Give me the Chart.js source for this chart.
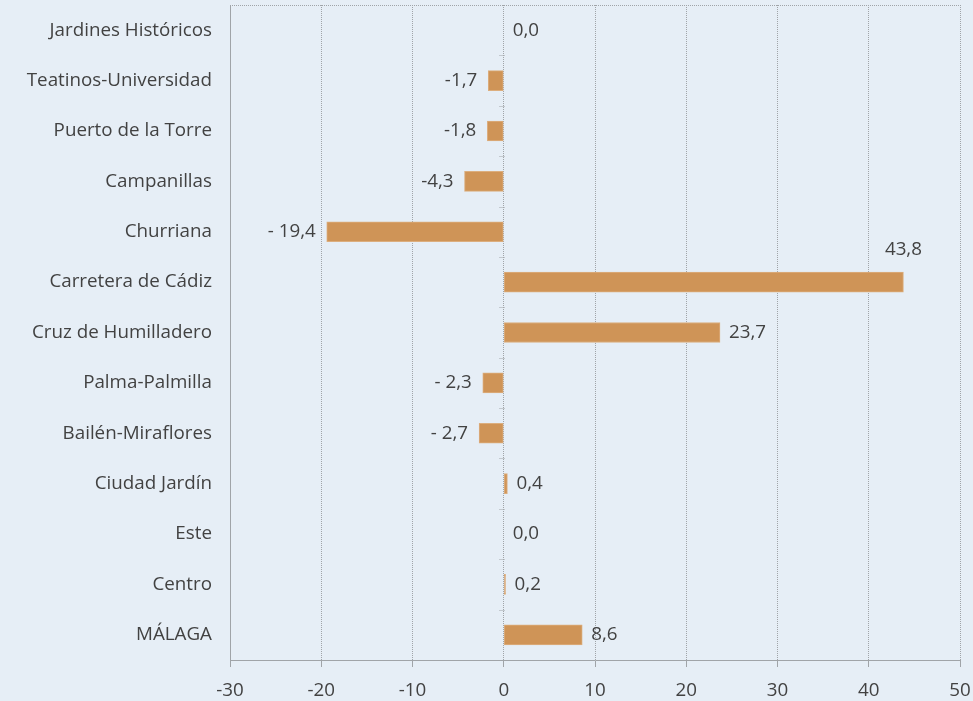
<!DOCTYPE html>
<html lang="es">
<head>
<meta charset="UTF-8">
<title>Variación por distrito</title>
<script src="https://cdn.jsdelivr.net/npm/chart.js@4.4.4/dist/chart.umd.min.js"></script>
</head>
<body style="margin:0; background:#e6eef6;">
<div style="width:973px; height:701px;">
    <canvas id="grafico"></canvas>
</div>
<script>
    // Distritos y variación (%)
    const distritos = [
        'Jardines Históricos', 'Teatinos-Universidad', 'Puerto de la Torre', 'Campanillas',
        'Churriana', 'Carretera de Cádiz', 'Cruz de Humilladero', 'Palma-Palmilla',
        'Bailén-Miraflores', 'Ciudad Jardín', 'Este', 'Centro', 'MÁLAGA'
    ];
    const variacion = [0.0, -1.7, -1.8, -4.3, -19.4, 43.8, 23.7, -2.3, -2.7, 0.4, 0.0, 0.2, 8.6];
    const etiquetas = ['0,0', '-1,7', '-1,8', '-4,3', '- 19,4', '43,8', '23,7', '- 2,3', '- 2,7', '0,4', '0,0', '0,2', '8,6'];
    const marcasEje = [-30, -20, -10, 0, 10, 20, 30, 40, 50];

    const colorTexto = '#424242';
    const colorRejilla = '#a0a4a8';
    const fuente = '"Open Sans", Lato, sans-serif';
    const tamFuente = 18.8;

    // Borde superior, eje en cero con marcas y etiquetas de valor
    const extras = {
        id: 'extras',
        afterDatasetsDraw(chart) {
            const ctx = chart.ctx;
            const area = chart.chartArea;
            const x = chart.scales.x;
            ctx.save();
            ctx.strokeStyle = colorRejilla;
            ctx.lineWidth = 1;
            ctx.setLineDash([1, 1]);
            ctx.beginPath();
            ctx.moveTo(area.left, area.top + 0.5);
            ctx.lineTo(area.right, area.top + 0.5);
            const x0 = Math.round(x.getPixelForValue(0)) + 0.5;
            const paso = (area.bottom - area.top) / distritos.length;
            for (let i = 1; i < distritos.length; i++) {
                const yy = Math.round(area.top + i * paso) + 0.5;
                ctx.moveTo(x0 - 5, yy);
                ctx.lineTo(x0, yy);
            }
            ctx.stroke();
            ctx.setLineDash([]);

            ctx.fillStyle = colorTexto;
            ctx.font = tamFuente + 'px ' + fuente;
            ctx.textBaseline = 'middle';
            chart.getDatasetMeta(0).data.forEach((bar, i) => {
                const txt = etiquetas[i];
                const w = ctx.measureText(txt).width;
                if (variacion[i] < 0) {
                    ctx.textAlign = 'right';
                    ctx.fillText(txt, bar.x - 11, bar.y);
                } else if (bar.x + 10 + w > area.right - 20) {
                    ctx.textAlign = 'center';
                    ctx.fillText(txt, bar.x, bar.y - 32);
                } else {
                    ctx.textAlign = 'left';
                    ctx.fillText(txt, bar.x + 9, bar.y);
                }
            });
            ctx.restore();
        }
    };

    new Chart(document.getElementById('grafico'), {
        type: 'bar',
        data: {
            labels: distritos,
            datasets: [{
                data: variacion,
                backgroundColor: '#cf9457',
                borderColor: '#dcae7e',
                borderWidth: 1,
                borderSkipped: false,
                barThickness: 20
            }]
        },
        options: {
            indexAxis: 'y',
            responsive: true,
            maintainAspectRatio: false,
            animation: false,
            layout: { padding: { top: 5, right: 13, left: 0, bottom: 0 } },
            plugins: { legend: { display: false }, tooltip: { enabled: false } },
            scales: {
                x: {
                    min: -30, max: 50,
                    afterBuildTicks: s => { s.ticks = marcasEje.map(v => ({ value: v })); },
                    afterFit: s => { s.height = 41; s.paddingLeft = 0; s.paddingRight = 0; },
                    grid: { color: colorRejilla, tickLength: 7, drawOnChartArea: true },
                    border: { color: colorRejilla, dash: [1, 1] },
                    ticks: { color: colorTexto, font: { family: fuente, size: tamFuente }, padding: 12 }
                },
                y: {
                    afterFit: s => { s.width = 230; s.paddingTop = 0; s.paddingBottom = 0; },
                    grid: { display: false },
                    border: { color: colorRejilla, dash: [1, 1] },
                    ticks: { color: colorTexto, font: { family: fuente, size: tamFuente }, padding: 10 }
                }
            }
        },
        plugins: [extras]
    });
</script>
</body>
</html>
